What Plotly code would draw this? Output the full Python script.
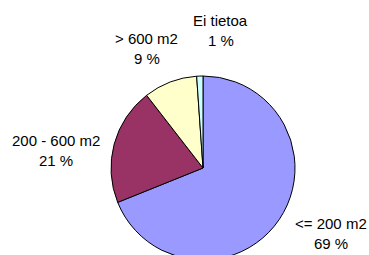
import plotly.graph_objects as go

# Data
categories = ["<= 200 m2", "200 - 600 m2", "> 600 m2", "Ei tietoa"]
values = [68.9, 20.6, 9.4, 1.1]
colors = ["#9999FF", "#993366", "#FFFFCC", "#CCFFFF"]

W, H = 369, 262
total = sum(values)
pct_labels = [f"{round(v / total * 100)} %" for v in values]

# label block centres (pixels from top-left): x, name line y, percent line y
label_pos = [
    (331, 223, 243.5),
    (56, 140.5, 160.5),
    (146.5, 38.5, 58.5),
    (220.5, 20, 40.5),
]

fig = go.Figure(go.Pie(
    labels=categories,
    values=values,
    sort=False,
    direction="clockwise",
    rotation=0,
    marker=dict(colors=colors, line=dict(color="black", width=1)),
    textinfo="none",
    hoverinfo="skip",
    showlegend=False,
    domain=dict(x=[111 / W, 295 / W], y=[2 / H, 186 / H]),
))

ann = []
for name, pct, (cx, y1, y2) in zip(categories, pct_labels, label_pos):
    for txt, yy in ((name, y1), (pct, y2)):
        ann.append(dict(text=txt, x=cx / W, y=1 - yy / H, xref="paper", yref="paper",
                        xanchor="center", yanchor="middle", showarrow=False,
                        font=dict(family="Arial, Liberation Sans", size=15, color="black")))

fig.update_layout(
    width=W, height=H,
    margin=dict(l=0, r=0, t=0, b=0),
    paper_bgcolor="white", plot_bgcolor="white",
    annotations=ann,
)

fig.write_html(
    "out.html",
    config={"displayModeBar": False},
    post_script="document.body.style.margin='0';document.body.style.overflow='hidden';document.documentElement.style.overflow='hidden';",
)
